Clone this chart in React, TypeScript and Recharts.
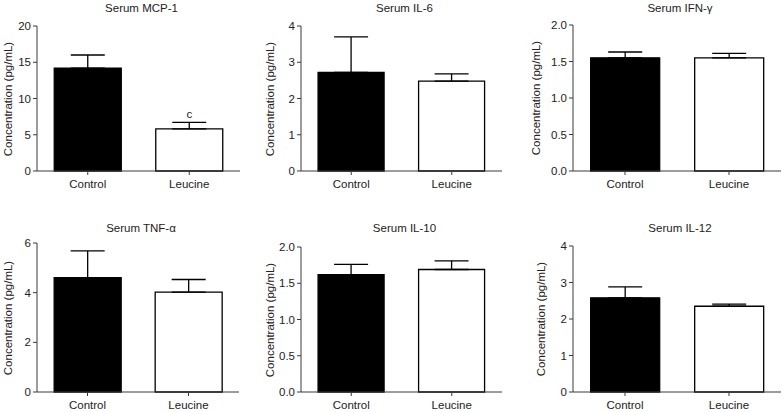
import React from "react";
import {
  BarChart,
  Bar,
  Cell,
  XAxis,
  YAxis,
  ErrorBar,
  ReferenceDot,
} from "recharts";

const groups = ["Control", "Leucine"];
const barFills = ["#000000", "#ffffff"];

const mcp1Mean = [14.2, 5.8];
const mcp1Err = [1.8, 0.9];
const il6Mean = [2.72, 2.48];
const il6Err = [0.98, 0.2];
const ifnMean = [1.55, 1.55];
const ifnErr = [0.08, 0.06];
const tnfMean = [4.6, 4.02];
const tnfErr = [1.08, 0.51];
const il10Mean = [1.62, 1.69];
const il10Err = [0.14, 0.12];
const il12Mean = [2.58, 2.35];
const il12Err = [0.3, 0.06];

const ticks20 = [0, 5, 10, 15, 20];
const ticks4 = [0, 1, 2, 3, 4];
const ticks2 = [0, 0.5, 1, 1.5, 2];
const ticks6 = [0, 2, 4, 6];

const FONT = "'Liberation Sans', Arial, sans-serif";
const FS = 11.5;
const INK = "#222";
const AXIS = "#3a3a3a";

type PanelDef = {
  title: string;
  mean: number[];
  err: number[];
  ticks: number[];
  decimals: number;
  sig?: string;
  box: { left: number; top: number; width: number; height: number };
  plot: { left: number; right: number; top: number; bottom: number };
  titleY: number;
  labelX: number;
};

const panels: PanelDef[] = [
  {
    title: "Serum MCP-1", mean: mcp1Mean, err: mcp1Err, ticks: ticks20, decimals: 0, sig: "c",
    box: { left: 0, top: 0, width: 262, height: 200 },
    plot: { left: 37, right: 240, top: 26, bottom: 171 }, titleY: 8, labelX: 8,
  },
  {
    title: "Serum IL-6", mean: il6Mean, err: il6Err, ticks: ticks4, decimals: 0,
    box: { left: 262, top: 0, width: 262, height: 200 },
    plot: { left: 301, right: 502, top: 26, bottom: 171 }, titleY: 8, labelX: 270,
  },
  {
    title: "Serum IFN-γ", mean: ifnMean, err: ifnErr, ticks: ticks2, decimals: 1,
    box: { left: 524, top: 0, width: 260, height: 200 },
    plot: { left: 573, right: 781, top: 25, bottom: 171 }, titleY: 8, labelX: 536,
  },
  {
    title: "Serum TNF-α", mean: tnfMean, err: tnfErr, ticks: ticks6, decimals: 0,
    box: { left: 0, top: 200, width: 262, height: 212 },
    plot: { left: 37, right: 239, top: 243, bottom: 392 }, titleY: 228, labelX: 8,
  },
  {
    title: "Serum IL-10", mean: il10Mean, err: il10Err, ticks: ticks2, decimals: 1,
    box: { left: 262, top: 200, width: 262, height: 212 },
    plot: { left: 301, right: 502, top: 247, bottom: 392 }, titleY: 228, labelX: 270,
  },
  {
    title: "Serum IL-12", mean: il12Mean, err: il12Err, ticks: ticks4, decimals: 0,
    box: { left: 524, top: 200, width: 260, height: 212 },
    plot: { left: 573, right: 781, top: 246, bottom: 392 }, titleY: 228, labelX: 541,
  },
];

function Panel({ p }: { p: PanelDef }) {
  const data = groups.map((g, i) => ({
    group: g,
    value: p.mean[i],
    err: [0, p.err[i]],
  }));
  const { box, plot } = p;
  const yAxisWidth = plot.left - box.left;
  const marginTop = plot.top - box.top;
  const marginRight = box.left + box.width - plot.right;
  const xAxisHeight = box.top + box.height - plot.bottom;
  const max = p.ticks[p.ticks.length - 1];
  const titleCx = (plot.left + plot.right) / 2 + 3;
  const labelCy = (plot.top + plot.bottom) / 2;

  return (
    <>
      <div
        style={{
          position: "absolute",
          left: titleCx - 100,
          top: p.titleY - 7,
          width: 200,
          textAlign: "center",
          fontFamily: FONT,
          fontSize: FS,
          lineHeight: "14px",
          color: INK,
        }}
      >
        {p.title}
      </div>
      <div
        style={{
          position: "absolute",
          left: p.labelX - 100,
          top: labelCy - 7,
          width: 200,
          textAlign: "center",
          fontFamily: FONT,
          fontSize: FS,
          lineHeight: "14px",
          color: INK,
          transform: "rotate(-90deg)",
          transformOrigin: "center",
        }}
      >
        Concentration (pg/mL)
      </div>
      <div style={{ position: "absolute", left: box.left, top: box.top }}>
        <BarChart
          width={box.width}
          height={box.height}
          data={data}
          margin={{ top: marginTop, right: marginRight, bottom: 0, left: 0 }}
          barCategoryGap="17%"
        >
          <XAxis
            dataKey="group"
            height={xAxisHeight}
            stroke={AXIS}
            tickSize={4}
            tickMargin={5}
            tick={{ fill: INK, fontSize: FS, fontFamily: FONT }}
          />
          <YAxis
            width={yAxisWidth}
            domain={[0, max]}
            ticks={p.ticks}
            interval={0}
            stroke={AXIS}
            tickSize={4}
            tickMargin={2}
            tickFormatter={(v: number) => v.toFixed(p.decimals)}
            tick={{ fill: INK, fontSize: FS, fontFamily: FONT }}
          />
          <Bar
            dataKey="value"
            stroke="#000"
            strokeWidth={1.3}
            isAnimationActive={false}
          >
            {data.map((d, i) => (
              <Cell key={d.group} fill={barFills[i]} />
            ))}
            <ErrorBar
              dataKey="err"
              width={17}
              stroke="#000"
              strokeWidth={1.3}
              direction="y"
            />
          </Bar>
          {p.sig && (
            <ReferenceDot
              x={groups[1]}
              y={p.mean[1] + p.err[1]}
              r={0}
              fill="none"
              stroke="none"
              label={{
                value: p.sig,
                position: "top",
                offset: 4,
                fill: INK,
                fontSize: FS,
                fontFamily: FONT,
              }}
            />
          )}
        </BarChart>
      </div>
    </>
  );
}

export default function App() {
  return (
    <div
      style={{
        position: "absolute",
        left: 0,
        top: 0,
        width: 784,
        height: 412,
        background: "#fff",
      }}
    >
      {panels.map((p) => (
        <Panel key={p.title} p={p} />
      ))}
    </div>
  );
}
